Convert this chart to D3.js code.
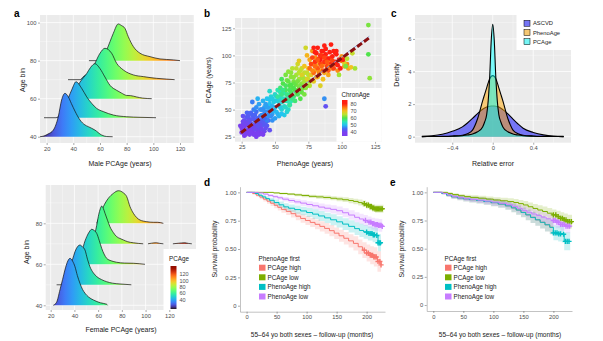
<!DOCTYPE html>
<html>
<head>
<meta charset="utf-8">
<script src="https://cdn.jsdelivr.net/npm/d3@7"></script>
<style>
  body { margin: 0; background: #fff; }
  svg { font-family: "Liberation Sans", Arial, sans-serif; }
</style>
</head>
<body>
<svg width="603" height="341"></svg>
<script>
// ---------------- data ----------------
// panel a: ridgelines, [PCAge, density height in age-bin units]
var ageBins = [40, 50, 60, 70, 80];
var maleDens = [
  [[15,0],[18,0.4],[21,1.4],[25,3.5],[28.7,10.5],[31.2,19.3],[33.7,22.8],[36.2,21],[38.5,17.5],[41.2,13.5],[45,8.8],[48.7,6.2],[51.2,5.3],[56.2,3.5],[61.2,0.9],[65,0.1],[69.5,0]],
  [[18,0],[27,0],[30,1.5],[33,5],[36,10],[39,15],[42,18.9],[46.2,15.5],[50,11],[53.7,7.6],[57.5,4.9],[62.5,3.2],[70,1.4],[80,0.5],[90,0.2],[102,0]],
  [[36,0],[38,0.3],[40,2.6],[45,8.7],[50,13.2],[53,16.5],[56.2,18.4],[60,15.8],[63.7,11.4],[67.5,7],[72.5,4.4],[76,3],[80,1.7],[83,1.6],[87.5,0.9],[92,0.3],[98.8,0]],
  [[36,0],[45,0],[47.5,1.6],[52.5,4.2],[56.2,8.6],[60,13.9],[63.7,16.5],[68.7,13.9],[72.5,8.6],[77.5,5.1],[85,2.5],[92.5,1.6],[102.5,0.7],[110,0.3],[116,0]],
  [[51.7,0],[58,0],[61.2,1.3],[65,5.6],[67.5,10],[70,14.4],[73.7,19.3],[76,18.5],[78.7,17],[81.2,12.6],[85,7.4],[90,3.9],[97.5,2.1],[105,0.9],[115,0.4],[120,0]]
];
var femaleDens = [
  [[22.2,0],[25,1.5],[27.8,7.5],[30,12.5],[32,17.2],[34,21],[36.3,22.9],[38.5,21.5],[40.5,18.8],[42.5,14.5],[44.7,10.7],[46.8,7.8],[48.9,5.9],[52,4],[56,2.6],[62,1.2],[67.2,0.5],[68,0]],
  [[25,0],[33,0],[35,3],[36.3,8.8],[38.5,12.5],[40.5,16.2],[42.5,18.5],[44.7,19.4],[46.8,18.5],[48.9,17],[51,12.5],[53.1,8.8],[56,5.8],[58.8,4],[63,2.5],[67.2,1.5],[72,0.8],[78.4,0.4],[88,0]],
  [[42.5,0],[44,1],[46,4.5],[47.5,8.6],[50.4,13.5],[52.5,15.8],[54.6,17.1],[56.7,16.5],[58.8,15.1],[61,11.5],[63,7.8],[65,5],[67.2,2.9],[71,1.7],[75.6,1],[82,0.6],[89.7,0.5],[99.5,0]],
  [[56,0],[57.4,5.1],[58.8,9],[60.1,13.2],[61.5,16.5],[63,18.4],[64.4,17.2],[65.8,14.9],[67.9,11.5],[70,8.3],[72.8,5.5],[75.6,3.5],[78.4,2.6],[81.2,1.9],[85,1],[89.7,0.5],[98,0],[100,null],
   [102,0],[105,0.3],[109,0.5],[112,0.2],[115,0],[118,null],[123,0],[128,0.3],[133,0.5],[136,0.2],[139,0]],
  [[58.8,0],[61.6,4],[64.4,8.1],[68.6,12.2],[72.8,14.6],[77,15.9],[79,15.7],[81.2,14.9],[84.1,13],[86.9,8.1],[89.7,4.9],[92.5,2.8],[95.3,1.6],[101,0.8],[106.6,0.5],[110,0.5],[115,0]]
];
var pcTicks = [20, 40, 60, 80, 100, 120];
var pcLegendTicks = [40, 60, 80, 100, 120];
var turboDomain = [12, 145];

// panel b: [PhenoAge, PCAge, ChronAge]
var chronPts = [
  [25,33,40],[26,36,41],[27,30,39],[27,40,42],[28,34,40],[28,38,41],[29,29,40],[29,43,43],[30,35,40],[30,32,41],
  [31,38,42],[31,27,39],[32,41,43],[32,34,41],[33,30,40],[33,45,44],[34,37,42],[34,33,41],[35,28,40],[35,40,43],
  [36,35,42],[36,48,45],[37,31,41],[37,42,44],[38,37,43],[38,27,40],[39,44,44],[39,33,42],[40,39,43],[40,50,46],
  [41,36,43],[42,46,45],[42,30,41],[43,41,44],[44,35,43],[45,52,47],[33,57,46],[29,47,44],[26,44,42],[24,35,40],
  [41,27,40],[36,25,39],[46,31,42],[27,26,39],[31,31,40],[35,36,41],[38,29,40],[30,40,42],[25,29,40],[34,27,40],
  [26,31,40],[28,27,39],[29,37,41],[30,44,43],[31,33,40],[32,29,40],[33,36,41],[34,42,43],[35,32,41],[36,38,42],
  [37,28,40],[38,40,43],[39,36,42],[40,32,41],[41,42,44],[42,38,43],[43,33,42],[44,45,45],[26,39,41],[29,32,40],
  [32,47,44],[35,45,44],[37,35,42],[40,28,40],[43,38,43],[45,40,44],[34,50,46],
  [36,52,47],[38,55,48],[40,45,47],[41,58,49],[42,52,48],[43,48,47],[44,60,50],[45,44,47],[46,55,50],[47,50,49],
  [47,62,52],[48,46,48],[49,57,51],[50,52,50],[50,64,53],[51,48,50],[52,58,52],[53,54,51],[53,44,49],[54,62,54],
  [55,50,52],[55,57,53],[56,66,55],[57,53,53],[58,60,55],[59,48,52],[60,63,56],[44,40,46],[39,50,47],[37,60,49],
  [48,40,47],[52,68,55],[57,45,51],[61,55,54],[46,67,53],[50,42,48],
  [41,50,47],[43,55,48],[45,48,47],[46,59,50],[47,44,47],[48,53,49],[49,49,49],[50,58,51],[51,62,52],[52,46,49],
  [53,60,52],[54,52,51],[55,46,50],[56,60,54],[57,65,55],[58,52,53],[59,58,54],[60,50,53],[62,58,55],[44,52,48],
  [42,42,45],[48,60,51],[54,66,55],
  [52,62,56],[54,70,58],[55,64,57],[56,74,60],[57,58,56],[58,68,59],[59,77,62],[60,60,57],[61,72,60],[62,66,59],
  [62,80,63],[63,70,61],[64,62,58],[64,76,62],[65,68,60],[66,82,64],[66,73,62],[67,64,59],[68,78,64],[68,70,62],
  [69,86,66],[70,74,63],[70,66,61],[71,80,65],[72,76,64],[73,70,63],[74,84,66],[60,85,63],[58,82,62],[65,58,58],
  [72,64,62],[75,78,65],[63,88,65],[67,92,67],[61,54,56],[70,88,66],[73,107,67],[76,72,65],[55,78,59],[69,60,60],
  [56,68,57],[58,72,59],[59,64,57],[60,76,61],[61,68,59],[62,73,60],[63,60,57],[64,80,63],[65,74,61],[66,66,60],
  [67,76,62],[68,84,65],[69,72,62],[70,79,64],[71,70,62],[72,84,66],[73,78,64],[74,72,63],[75,82,65],[76,76,65],
  [66,88,66],[64,70,60],[62,84,63],
  [68,95,69],[70,82,68],[72,90,70],[74,78,68],[75,88,70],[76,96,72],[77,82,69],[78,92,71],[79,76,69],[80,86,71],
  [80,98,73],[81,90,72],[82,80,70],[83,94,73],[84,86,71],[85,100,74],[86,78,70],[86,92,73],[87,84,72],[88,96,74],
  [89,88,73],[90,82,72],[91,94,74],[92,98,75],[74,100,71],[78,104,73],[84,72,68],[93,88,74],[95,92,75],[97,86,74],
  [100,95,75],[102,90,72],[104,92,74],[105,88,72],[107,89,70],[102,93,68],[100,99,73],
  [76,88,76],[78,98,78],[79,84,76],[80,94,79],[81,102,80],[82,88,77],[82,107,81],[83,97,79],[84,92,78],[85,104,82],
  [86,86,77],[86,99,80],[87,94,79],[88,101,82],[88,106,83],[89,90,78],[90,97,81],[91,103,83],[92,92,80],[93,99,82],
  [94,104,84],[95,94,81],[96,101,83],[97,91,80],[98,96,82],[80,103,82],[84,96,81],[90,86,77],[94,88,78],[99,88,80],
  [101,96,82],[96,104,82],[95,103,86],[87,109,84],[79,107,81],[92,110,84],[77,92,78],[89,97,80],
  [78,86,74],[80,90,76],[82,96,77],[84,100,79],[85,90,76],[87,98,78],[89,94,77],[91,90,76],[93,95,78],[86,104,80],
  [83,84,74],[81,80,72],
  [120,128,62],[120,101,60],[121,79,63],[88,53,42],[87,60,47],[104,97,65],[108,102,66],[103,90,62],[98,82,64],[110,88,64]
];
var fitPheno = [24.5, 120.7];
var fitPC = [28.7, 116.3];
var bTicks = [25, 50, 75, 100, 125];
var chronLegendTicks = [40, 50, 60, 70, 80];
var chronStops = [40, 45, 50, 55, 60, 65, 70, 75, 80];
var chronColors = ["#7b3ff0", "#3f6df5", "#23c4f0", "#2ee6b0", "#4fe34a", "#b8e330", "#f2c21f", "#ff7a12", "#ff1f12"];

// panel c: relative error densities
var relErr = [-0.7,-0.6,-0.5,-0.4,-0.3,-0.25,-0.2,-0.15,-0.1,-0.08,-0.06,-0.045,-0.03,-0.015,0,0.015,0.03,0.045,0.06,0.08,0.1,0.15,0.2,0.25,0.3,0.4,0.5,0.6,0.7];
var densASCVD = [0.02,0.06,0.15,0.33,0.6,0.84,1.12,1.42,1.68,1.76,1.82,1.85,1.87,1.88,1.88,1.88,1.87,1.85,1.82,1.75,1.66,1.4,1.08,0.78,0.52,0.26,0.11,0.04,0.02];
var densPheno = [0.005,0.01,0.02,0.04,0.09,0.18,0.4,1.1,2.2,2.6,3.0,3.3,3.55,3.7,3.75,3.7,3.55,3.3,3.0,2.6,2.2,1.1,0.4,0.18,0.09,0.04,0.02,0.01,0.005];
var densPC = [0.005,0.01,0.015,0.03,0.06,0.1,0.16,0.3,0.6,0.9,1.35,2.2,3.7,5.9,6.9,5.9,3.7,2.2,1.35,0.9,0.6,0.3,0.16,0.1,0.06,0.03,0.015,0.01,0.005];
var densNames = ["ASCVD", "PhenoAge", "PCAge"];
var densColors = ["#0000ff", "#ffa500", "#00ffff"];

// panels d, e: Kaplan-Meier curves (months, survival, lower/upper CI, censor times)
var groupNames = ["PCAge high", "PCAge low", "PhenoAge high", "PhenoAge low"];
var groupColors = ["#F8766D", "#7CAE00", "#00BFC4", "#C77CFF"];
var kmD = [
  { t: [0,10,16,22,28,34,40,46,52,58,66,74,82,90,98,106,114,122,130,138,146,154,162,170,178,186,193,200,206,212,218,224],
    s: [1,.99,.975,.958,.94,.922,.904,.886,.868,.85,.832,.812,.79,.77,.752,.735,.718,.7,.682,.662,.64,.617,.595,.572,.55,.52,.49,.465,.445,.43,.39,.36],
    lo: [1,.98,.962,.94,.92,.9,.88,.86,.84,.82,.8,.778,.755,.733,.713,.694,.675,.655,.635,.613,.589,.564,.539,.514,.488,.455,.42,.39,.365,.345,.3,.265],
    hi: [1,1,.988,.976,.96,.944,.928,.912,.896,.88,.864,.846,.825,.807,.791,.776,.761,.745,.729,.711,.691,.67,.651,.63,.612,.585,.56,.54,.525,.515,.48,.455],
    cens: [196,200,203,206,208,210,212,214,216,219,222,224] },
  { t: [0,45,55,68,80,92,104,116,128,140,150,160,170,178,186,193,199,204,209,214,228],
    s: [1,.995,.99,.985,.978,.972,.965,.96,.955,.948,.942,.935,.928,.92,.91,.9,.888,.875,.862,.855,.855],
    lo: [1,.99,.982,.975,.966,.958,.95,.944,.938,.93,.922,.914,.905,.896,.884,.872,.858,.843,.828,.82,.82],
    hi: [1,1,.998,.995,.99,.986,.98,.976,.972,.966,.962,.956,.951,.944,.936,.928,.918,.907,.896,.89,.89],
    cens: [196,200,203,206,208,210,212,214,216,218,220,222,224,226] },
  { t: [0,14,20,26,32,38,46,54,62,70,80,90,100,110,120,130,140,150,160,170,180,188,195,202,210,216,219,224],
    s: [1,.99,.975,.96,.945,.93,.91,.89,.872,.86,.848,.836,.822,.808,.792,.775,.758,.74,.72,.7,.68,.664,.65,.637,.625,.62,.555,.54],
    lo: [1,.98,.962,.943,.925,.907,.884,.861,.841,.827,.812,.798,.782,.766,.748,.729,.71,.69,.668,.646,.624,.606,.59,.575,.56,.553,.48,.46],
    hi: [1,1,.988,.977,.965,.953,.936,.919,.903,.893,.884,.874,.862,.85,.836,.821,.806,.79,.772,.754,.736,.722,.71,.699,.69,.687,.63,.62],
    cens: [200,204,207,209,211,213,217,219,221,223] },
  { t: [0,20,28,36,44,52,60,70,80,90,100,110,120,130,140,150,160,170,180,188,195,202,208,214,220,226],
    s: [1,.995,.985,.973,.962,.952,.94,.928,.916,.905,.893,.882,.87,.86,.85,.838,.82,.8,.78,.765,.752,.738,.725,.715,.708,.70],
    lo: [1,.988,.975,.96,.946,.934,.92,.906,.892,.879,.865,.852,.838,.826,.814,.8,.78,.758,.736,.719,.704,.688,.673,.661,.652,.643],
    hi: [1,1,.995,.986,.978,.97,.96,.95,.94,.931,.921,.912,.902,.894,.886,.876,.86,.842,.824,.811,.8,.788,.777,.769,.764,.757],
    cens: [198,204,207,210,212,214,216,218,220,222,224,226] }
];
var kmE = [
  { t: [0,14,22,30,40,50,60,72,84,96,108,120,130,138,146,154,162,170,178,186,194,200],
    s: [1,.99,.975,.96,.95,.942,.935,.927,.918,.908,.896,.88,.862,.843,.822,.8,.778,.756,.734,.712,.69,.69],
    lo: [1,.98,.96,.942,.929,.919,.91,.9,.889,.877,.863,.845,.824,.802,.778,.753,.728,.703,.678,.653,.628,.628],
    hi: [1,1,.99,.978,.971,.965,.96,.954,.947,.939,.929,.915,.9,.884,.866,.847,.828,.809,.79,.771,.752,.752],
    cens: [] },
  { t: [0,24,32,42,52,62,75,88,100,112,124,134,142,150,158,166,174,182,190,198,205,212,218,224,231],
    s: [1,.99,.98,.97,.962,.955,.948,.94,.932,.925,.918,.91,.9,.888,.872,.857,.843,.83,.815,.8,.785,.77,.755,.74,.725],
    lo: [1,.98,.968,.955,.945,.936,.927,.917,.907,.898,.889,.879,.867,.852,.834,.817,.801,.786,.769,.752,.734,.716,.698,.68,.66],
    hi: [1,1,.992,.985,.979,.974,.969,.963,.957,.952,.947,.941,.933,.924,.91,.897,.885,.874,.861,.848,.836,.824,.812,.8,.79],
    cens: [200,204,208,212,215,218,221,224,227,230] },
  { t: [0,14,22,30,40,50,60,72,84,96,108,120,130,138,146,154,162,170,178,186,194,200,208,214,218,228],
    s: [1,.99,.975,.96,.95,.942,.935,.927,.918,.908,.896,.88,.862,.843,.822,.8,.778,.756,.734,.712,.69,.64,.632,.628,.565,.56],
    lo: [1,.98,.96,.942,.929,.919,.91,.9,.889,.877,.863,.845,.824,.802,.778,.753,.728,.703,.678,.653,.628,.574,.563,.555,.485,.475],
    hi: [1,1,.99,.978,.971,.965,.96,.954,.947,.939,.929,.915,.9,.884,.866,.847,.828,.809,.79,.771,.752,.706,.701,.701,.645,.645],
    cens: [200,203,206,209,212,217,220,223,226] },
  { t: [0,16,24,32,42,52,62,74,86,98,110,122,132,140,148,156,164,172,180,188,196,204,212,220,228],
    s: [1,.99,.975,.962,.952,.944,.937,.93,.922,.913,.903,.89,.875,.858,.84,.823,.808,.795,.78,.765,.75,.735,.715,.7,.69],
    lo: [1,.98,.962,.946,.933,.923,.914,.905,.895,.884,.872,.857,.84,.82,.8,.781,.764,.749,.732,.715,.698,.681,.659,.642,.63],
    hi: [1,1,.988,.978,.971,.965,.96,.955,.949,.942,.934,.923,.91,.896,.88,.865,.852,.841,.828,.815,.802,.789,.771,.758,.75],
    cens: [200,203,206,209,212,215,218,221,224,227] }
];
var kmTicksX = [0, 50, 100, 150, 200];
var kmTicksY = [0, 0.25, 0.5, 0.75, 1];

// ---------------- helpers ----------------
var svg = d3.select("svg");
var defs = svg.append("defs");
var tickCol = "#4d4d4d";

function grayPanel(x, y, xMaj, xMin, yMaj, yMin) {
  var xr = x.range(), yr = y.range();
  svg.append("rect").attr("x", xr[0]).attr("y", yr[1])
    .attr("width", xr[1] - xr[0]).attr("height", yr[0] - yr[1]).attr("fill", "#ebebeb");
  var g = svg.append("g").attr("stroke", "#fff").attr("fill", "none");
  [[xMin, 0.35], [xMaj, 0.75]].forEach(function(p) {
    g.selectAll(null).data(p[0]).enter().append("line")
      .attr("x1", function(d) { return x(d); }).attr("x2", function(d) { return x(d); })
      .attr("y1", yr[1]).attr("y2", yr[0]).attr("stroke-width", p[1]);
  });
  [[yMin, 0.35], [yMaj, 0.75]].forEach(function(p) {
    g.selectAll(null).data(p[0]).enter().append("line")
      .attr("y1", function(d) { return y(d); }).attr("y2", function(d) { return y(d); })
      .attr("x1", xr[0]).attr("x2", xr[1]).attr("stroke-width", p[1]);
  });
}

function styleAxis(g, keepDomain) {
  g.attr("font-family", null).attr("font-size", null);
  if (!keepDomain) g.select(".domain").remove();
  else g.select(".domain").attr("stroke", "#9a9a9a").attr("stroke-width", 0.6);
  g.selectAll(".tick text").attr("font-size", 5.8).attr("fill", tickCol);
  g.selectAll(".tick line").attr("stroke", "#555").attr("stroke-width", 0.5);
}

function axisB(x, yPos, ticks, fmt, keepDomain) {
  var g = svg.append("g").attr("transform", "translate(0," + yPos + ")")
    .call(d3.axisBottom(x).tickValues(ticks).tickSize(2).tickSizeOuter(0).tickPadding(1.5).tickFormat(fmt || d3.format("")));
  styleAxis(g, keepDomain);
}

function axisL(y, xPos, ticks, fmt, keepDomain) {
  var g = svg.append("g").attr("transform", "translate(" + xPos + ",0)")
    .call(d3.axisLeft(y).tickValues(ticks).tickSize(2).tickSizeOuter(0).tickPadding(1.5).tickFormat(fmt || d3.format("")));
  styleAxis(g, keepDomain);
}

function text(x, y, s, size, opts) {
  opts = opts || {};
  var t = svg.append("text").attr("x", x).attr("y", y).text(s)
    .attr("font-size", size).attr("fill", opts.fill || "#1a1a1a")
    .attr("text-anchor", opts.anchor || "start");
  if (opts.bold) t.attr("font-weight", "bold");
  if (opts.rotate) t.attr("transform", "rotate(-90," + x + "," + y + ")");
  return t;
}

function turboGradient(id, x) {
  var gr = defs.append("linearGradient").attr("id", id).attr("gradientUnits", "userSpaceOnUse")
    .attr("x1", x(turboDomain[0])).attr("x2", x(turboDomain[1])).attr("y1", 0).attr("y2", 0);
  gr.selectAll("stop").data(d3.range(0, 1.0001, 0.05)).enter().append("stop")
    .attr("offset", function(d) { return d; })
    .attr("stop-color", function(d) { return d3.interpolateTurbo(d); });
}

function ridges(x, y, dens, gradId) {
  for (var i = dens.length - 1; i >= 0; i--) {
    var base = ageBins[i];
    var area = d3.area().defined(function(d) { return d[1] !== null; })
      .curve(d3.curveMonotoneX)
      .x(function(d) { return x(d[0]); })
      .y0(y(base))
      .y1(function(d) { return y(base + d[1]); });
    var line = area.lineY1();
    svg.append("path").datum(dens[i]).attr("d", area).attr("fill", "url(#" + gradId + ")");
    svg.append("path").datum(dens[i]).attr("d", line)
      .attr("fill", "none").attr("stroke", "#111").attr("stroke-width", 0.7);
  }
}

// ---------------- panel a (male) ----------------
var xM = d3.scaleLinear().domain([15, 130.5]).range([40, 194]);
var yM = d3.scaleLinear().domain([36.7, 104]).range([143, 15]);
grayPanel(xM, yM, pcTicks, [30, 50, 70, 90, 110, 130], [40, 60, 80, 100], [50, 70, 90]);
turboGradient("turboM", xM);
ridges(xM, yM, maleDens, "turboM");
axisB(xM, 143, pcTicks);
axisL(yM, 40, [40, 60, 80, 100]);
text(120, 165.5, "Male PCAge (years)", 7, { anchor: "middle" });
text(25, 80, "Age bin", 7, { anchor: "middle", rotate: true });
text(14, 16.5, "a", 10, { bold: true, fill: "#000" });

// ---------------- panel a (female) ----------------
var xF = d3.scaleLinear().domain([15.8, 142.5]).range([45.7, 196]);
var yF = d3.scaleLinear().domain([37.7, 98.7]).range([310, 185]);
grayPanel(xF, yF, pcTicks, [30, 50, 70, 90, 110, 130], [40, 60, 80], [50, 70, 90]);
turboGradient("turboF", xF);
ridges(xF, yF, femaleDens, "turboF");
axisB(xF, 310, pcTicks);
axisL(yF, 45.7, [40, 60, 80]);
text(121, 332, "Female PCAge (years)", 7, { anchor: "middle" });
text(29, 252, "Age bin", 7, { anchor: "middle", rotate: true });

// PCAge legend
svg.append("rect").attr("x", 163.5).attr("y", 249).attr("width", 33).attr("height", 61).attr("fill", "#fff");
text(169, 261, "PCAge", 6.3, {});
var pcLeg = d3.scaleLinear().domain(turboDomain).range([309, 266]);
var gv = defs.append("linearGradient").attr("id", "turboV").attr("x1", 0).attr("x2", 0).attr("y1", 1).attr("y2", 0);
gv.selectAll("stop").data(d3.range(0, 1.0001, 0.05)).enter().append("stop")
  .attr("offset", function(d) { return d; })
  .attr("stop-color", function(d) { return d3.interpolateTurbo(d); });
svg.append("rect").attr("x", 170.5).attr("y", pcLeg(turboDomain[1])).attr("width", 6)
  .attr("height", pcLeg(turboDomain[0]) - pcLeg(turboDomain[1])).attr("fill", "url(#turboV)");
svg.selectAll(null).data(pcLegendTicks).enter().append("text")
  .attr("x", 179.5).attr("y", function(d) { return pcLeg(d) + 2; })
  .attr("font-size", 5.5).attr("fill", tickCol).text(function(d) { return d; });

// ---------------- panel b ----------------
var xB = d3.scaleLinear().domain([20, 130]).range([235, 381.7]);
var yB = d3.scaleLinear().domain([20.4, 134.5]).range([141.7, 18]);
var chronColor = d3.scaleLinear().domain(chronStops).range(chronColors).clamp(true);
grayPanel(xB, yB, bTicks, [37.5, 62.5, 87.5, 112.5], bTicks, [37.5, 62.5, 87.5, 112.5]);
svg.append("g").selectAll("circle").data(chronPts).enter().append("circle")
  .attr("cx", function(d) { return xB(d[0]); })
  .attr("cy", function(d) { return yB(d[1]); })
  .attr("r", 2.4)
  .attr("fill", function(d) { return chronColor(d[2]); });
svg.append("line").attr("x1", xB(fitPheno[0])).attr("y1", yB(fitPC[0]) - 0.8)
  .attr("x2", xB(fitPheno[1])).attr("y2", yB(fitPC[1]) - 1.5)
  .attr("stroke", "#7f9fdf").attr("stroke-width", 0.9);
svg.append("line").attr("x1", xB(fitPheno[0])).attr("y1", yB(fitPC[0]))
  .attr("x2", xB(fitPheno[1])).attr("y2", yB(fitPC[1]))
  .attr("stroke", "#8b1010").attr("stroke-width", 3).attr("stroke-dasharray", "6,2.5");
axisB(xB, 141.7, bTicks);
axisL(yB, 235, bTicks);
text(305, 165.5, "PhenoAge (years)", 7, { anchor: "middle" });
text(210.5, 80, "PCAge (years)", 7, { anchor: "middle", rotate: true });
text(204, 16.5, "b", 10, { bold: true, fill: "#000" });

// ChronAge legend
svg.append("rect").attr("x", 336.5).attr("y", 88).attr("width", 45.2).attr("height", 53.7).attr("fill", "#fff");
text(341.5, 96.5, "ChronAge", 6.3, {});
var chronLeg = d3.scaleLinear().domain([34.3, 85.7]).range([136, 100]);
var gc = defs.append("linearGradient").attr("id", "chronV").attr("x1", 0).attr("x2", 0).attr("y1", 1).attr("y2", 0);
gc.selectAll("stop").data(d3.range(0, 1.0001, 0.05)).enter().append("stop")
  .attr("offset", function(d) { return d; })
  .attr("stop-color", function(d) { return chronColor(34.3 + d * (85.7 - 34.3)); });
svg.append("rect").attr("x", 342).attr("y", 100).attr("width", 5.5).attr("height", 36).attr("fill", "url(#chronV)");
svg.selectAll(null).data(chronLegendTicks).enter().append("text")
  .attr("x", 350.5).attr("y", function(d) { return chronLeg(d) + 2; })
  .attr("font-size", 5.5).attr("fill", tickCol).text(function(d) { return d; });

// ---------------- panel c ----------------
var xC = d3.scaleLinear().domain([-0.768, 0.773]).range([415, 571]);
var yC = d3.scaleLinear().domain([-0.37, 7.47]).range([142.7, 15]);
grayPanel(xC, yC, [-0.4, 0, 0.4], [-0.6, -0.2, 0.2, 0.6], [0, 2, 4, 6], [1, 3, 5, 7]);
[densASCVD, densPheno, densPC].forEach(function(dens, i) {
  var pts = relErr.map(function(e, j) { return [e, dens[j]]; });
  var area = d3.area().curve(d3.curveMonotoneX)
    .x(function(d) { return xC(d[0]); }).y0(yC(0)).y1(function(d) { return yC(d[1]); });
  svg.append("path").datum(pts).attr("d", area).attr("fill", densColors[i]).attr("fill-opacity", 0.5);
  svg.append("path").datum(pts).attr("d", area.lineY1())
    .attr("fill", "none").attr("stroke", "#000").attr("stroke-width", 1.1);
});
axisB(xC, 142.7, [-0.4, 0, 0.4], function(d) { return d === 0 ? "0" : d3.format(".1f")(d); });
axisL(yC, 415, [0, 2, 4, 6]);
text(493, 165.5, "Relative error", 7, { anchor: "middle" });
text(398.5, 75, "Density", 7, { anchor: "middle", rotate: true });
text(391, 16.5, "c", 10, { bold: true, fill: "#000" });

// density legend
svg.append("rect").attr("x", 516.5).attr("y", 15).attr("width", 54.5).attr("height", 35).attr("fill", "#fff");
densNames.forEach(function(n, i) {
  var cy = 23.3 + i * 9.2;
  svg.append("rect").attr("x", 524).attr("y", cy - 3).attr("width", 6).attr("height", 6)
    .attr("fill", "#ebebeb");
  svg.append("rect").attr("x", 524).attr("y", cy - 3).attr("width", 6).attr("height", 6)
    .attr("fill", densColors[i]).attr("fill-opacity", 0.5).attr("stroke", "#000").attr("stroke-width", 0.5);
  text(533, cy + 2, n, 5.8, {});
});

// ---------------- panels d, e ----------------
function kmPanel(curves, x, y, legendTitle, lx, ly) {
  var band = d3.area().curve(d3.curveStepAfter)
    .x(function(d) { return x(d.t); }).y0(function(d) { return y(d.lo); }).y1(function(d) { return y(d.hi); });
  var line = d3.line().curve(d3.curveStepAfter)
    .x(function(d) { return x(d.t); }).y(function(d) { return y(d.s); });
  var rows = curves.map(function(c) {
    return c.t.map(function(t, j) { return { t: t, s: c.s[j], lo: c.lo[j], hi: c.hi[j] }; });
  });
  rows.forEach(function(r, i) {
    svg.append("path").datum(r).attr("d", band).attr("fill", groupColors[i]).attr("fill-opacity", 0.2);
  });
  rows.forEach(function(r, i) {
    svg.append("path").datum(r).attr("d", line).attr("fill", "none")
      .attr("stroke", groupColors[i]).attr("stroke-width", 1);
    var c = curves[i];
    svg.append("g").selectAll("path").data(c.cens).enter().append("path")
      .attr("transform", function(t) {
        var k = d3.bisectRight(c.t, t) - 1;
        return "translate(" + x(t) + "," + y(c.s[k]) + ")";
      })
      .attr("d", "M-2.6,0H2.6M0,-2.6V2.6")
      .attr("stroke", groupColors[i]).attr("stroke-width", 1.4);
  });
  var xr = x.range(), yr = y.range();
  axisB(x, yr[0], kmTicksX, null, true);
  axisL(y, xr[0], kmTicksY, function(d) { return d === 0 ? "0" : d3.format(".2f")(d); }, true);

  text(lx, ly, legendTitle, 6.3, {});
  groupNames.forEach(function(n, i) {
    var cy = ly + 6.5 + i * 9.6;
    svg.append("rect").attr("x", lx + 0.5).attr("y", cy - 3).attr("width", 6.5).attr("height", 6)
      .attr("fill", groupColors[i]);
    text(lx + 9, cy + 2.2, n, 6.3, {});
  });
}

var xD = d3.scaleLinear().domain([-11, 230.6]).range([240, 385]);
var yD = d3.scaleLinear().domain([-0.053, 1.05]).range([311.7, 186.7]);
kmPanel(kmD, xD, yD, "PhenoAge first", 258.5, 261.2);
text(312, 337, "55–64 yo both sexes – follow-up (months)", 6.6, { anchor: "middle" });
text(217, 249, "Survival probability", 6.8, { anchor: "middle", rotate: true });
text(204, 186, "d", 10, { bold: true, fill: "#000" });

var xE = d3.scaleLinear().domain([-11, 231]).range([426.7, 572]);
var yE = d3.scaleLinear().domain([-0.053, 1.05]).range([311, 186.7]);
kmPanel(kmE, xE, yE, "PCAge first", 444.5, 261.2);
text(500, 337, "55–64 yo both sexes – follow-up (months)", 6.6, { anchor: "middle" });
text(403.5, 249, "Survival probability", 6.8, { anchor: "middle", rotate: true });
text(390, 186, "e", 10, { bold: true, fill: "#000" });
</script>
</body>
</html>
